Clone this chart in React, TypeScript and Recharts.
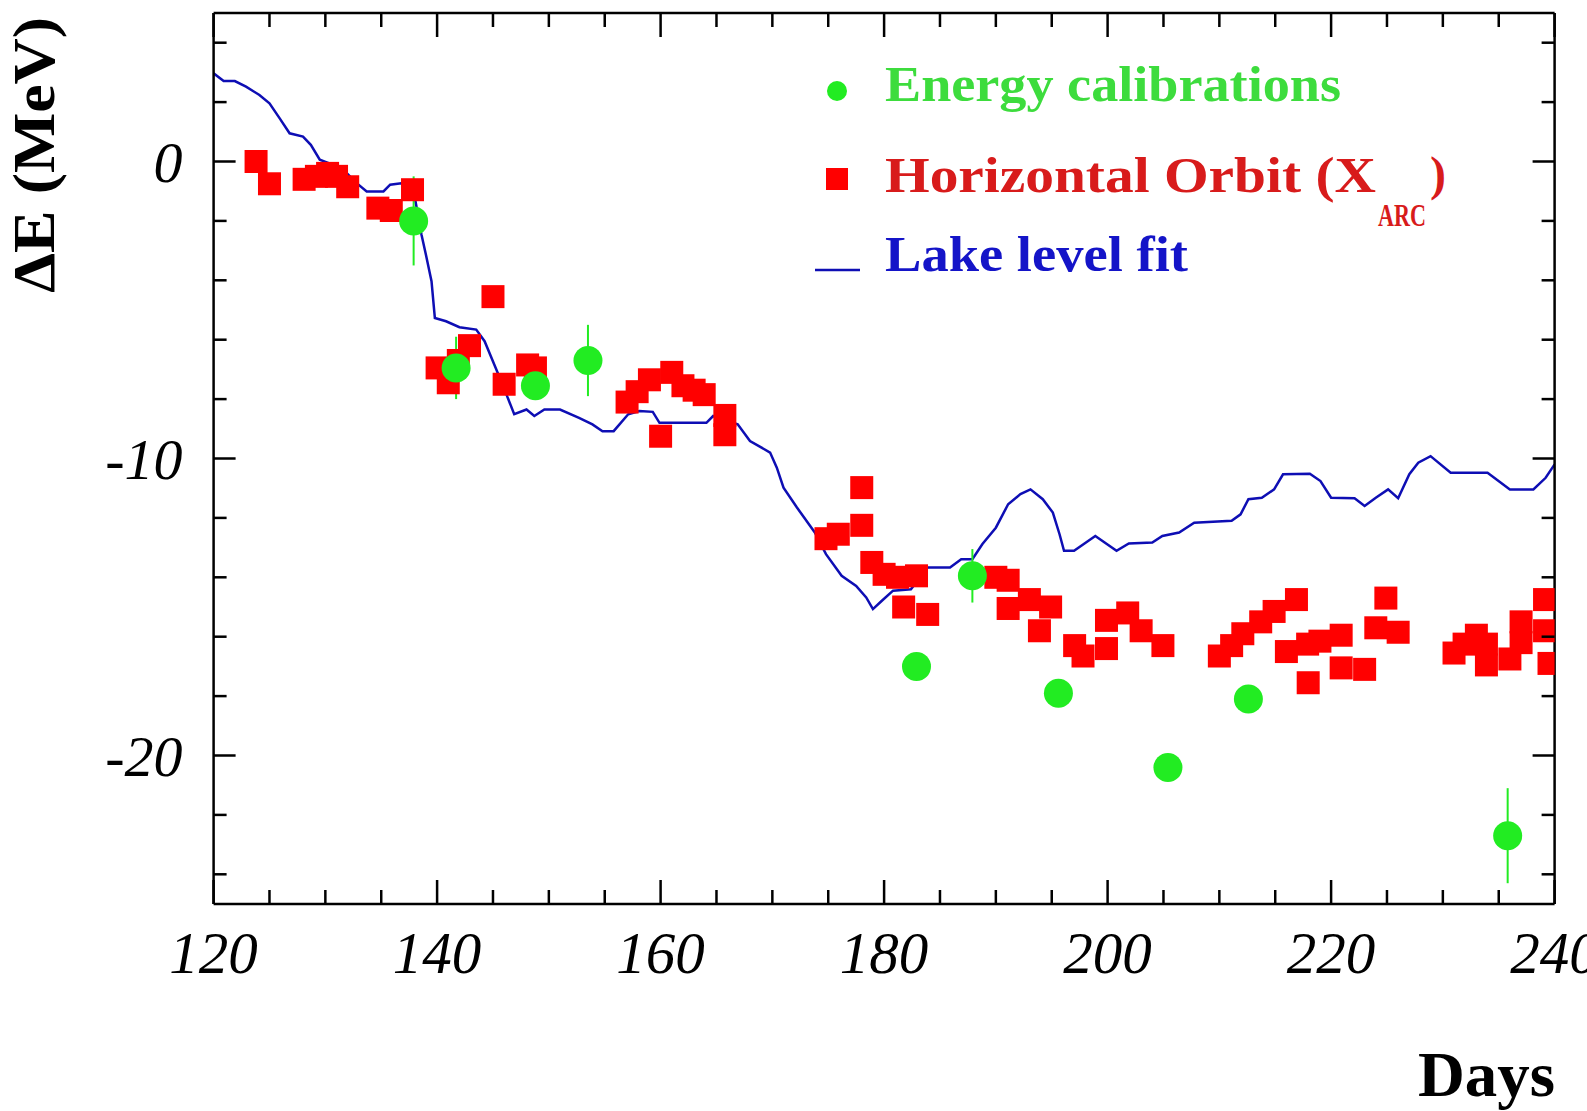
import React from "react";
import {
    ComposedChart,
    Line,
    Scatter,
    ErrorBar,
    XAxis,
    YAxis,
} from "recharts";

// energy calibrations (green dots with errors)
const CALIB_DAY = [137.9, 141.7, 148.8, 153.5, 182.9, 187.9, 195.6, 205.4, 212.6, 235.8];
const CALIB_DE = [-2.0, -6.95, -7.55, -6.7, -17.0, -13.95, -17.9, -20.4, -18.1, -22.7];
const CALIB_ERR = [1.5, 1.05, 0.45, 1.2, 0, 0.9, 0, 0, 0, 1.6];

// horizontal orbit (red squares)
const ORBIT_DAY = [
    123.8, 125.0, 128.1, 129.2, 130.2, 131.0, 132.0, 134.7, 135.9, 137.8,
    140.0, 141.0, 141.9, 142.9, 145.0, 146.0, 148.1, 148.8,
    157.0, 157.9, 159.0, 160.0, 161.0, 162.0, 163.0, 163.9, 165.75, 165.75,
    174.8, 175.9, 178.0, 178.0, 178.9, 180.0, 181.2, 181.75, 182.9, 183.9,
    190.0, 191.1, 191.1, 193.0, 193.9, 194.9, 197.05, 197.8, 199.9, 199.9,
    201.8, 203.0, 204.95, 210.0, 211.1, 212.1, 213.7, 214.9, 216.0, 216.9,
    217.9, 217.95, 219.0, 220.9, 220.9, 223.0, 224.0, 224.9, 226.0,
    231.0, 231.9, 233.0, 233.9, 233.9, 236.0, 237.0, 237.0, 239.1, 239.1, 239.5,
];
const ORBIT_DE = [
    0.0, -0.75, -0.6, -0.5, -0.4, -0.5, -0.85, -1.57, -1.65, -0.95,
    -6.95, -7.45, -6.7, -6.2, -4.55, -7.5, -6.85, -6.95,
    -8.1, -7.75, -7.35, -9.25, -7.1, -7.55, -7.7, -7.85, -8.55, -9.2,
    -12.7, -12.55, -10.98, -12.25, -13.5, -13.9, -14.0, -15.0, -13.95, -15.25,
    -14.0, -14.1, -15.05, -14.75, -15.8, -15.0, -16.3, -16.65, -16.4, -15.45,
    -15.2, -15.8, -16.3, -16.65, -16.3, -15.9, -15.5, -15.15, -16.5, -14.75,
    -16.25, -17.55, -16.15, -15.95, -17.05, -17.1, -15.7, -14.7, -15.85,
    -16.55, -16.25, -15.95, -16.25, -16.95, -16.75, -15.5, -16.2, -14.75, -15.8, -16.9,
];

// lake level fit (blue line)
const LAKE_DAY = [
    120.0, 120.9, 121.9, 122.9, 124.1, 125.0, 125.9, 126.8, 128.0, 128.7,
    129.5, 130.7, 131.9, 132.8, 133.7, 135.2, 135.8, 136.8, 137.8, 138.6,
    139.0, 139.5, 139.8, 140.8, 142.0, 143.5, 144.25, 145.3, 146.2, 146.9,
    148.0, 148.7, 149.6, 151.0, 152.7, 153.9, 154.8, 155.8, 157.1, 158.1,
    159.3, 159.9, 164.1, 164.7, 166.9, 168.0, 169.8, 170.4, 171.0, 172.2,
    173.8, 174.8, 176.2, 177.5, 178.4, 179.0, 179.8, 180.8, 182.4, 183.9,
    185.9, 186.9, 187.9, 188.8, 190.0, 191.1, 192.2, 193.1, 194.2, 195.1,
    195.7, 196.1, 197.0, 198.9, 200.8, 201.9, 204.0, 204.9, 206.4, 207.75,
    211.1, 211.9, 212.6, 213.8, 214.9, 215.7, 218.1, 219.05, 220.0, 222.1,
    223.0, 224.0, 225.1, 226.0, 227.0, 227.8, 228.9, 230.7, 234.0, 236.0,
    238.1, 239.2, 240.0,
];
const LAKE_DE = [
    2.97, 2.71, 2.71, 2.52, 2.24, 1.96, 1.46, 0.95, 0.84, 0.56,
    0.06, -0.11, -0.39, -0.73, -1.01, -1.01, -0.78, -0.73, -0.78, -2.46,
    -3.14, -4.03, -5.27, -5.38, -5.58, -5.66, -6.05, -7.0, -7.84, -8.51,
    -8.35, -8.57, -8.35, -8.35, -8.63, -8.85, -9.08, -9.08, -8.51, -8.4,
    -8.43, -8.8, -8.8, -8.57, -8.85, -9.41, -9.8, -10.31, -10.98, -11.65,
    -12.49, -13.22, -13.95, -14.29, -14.68, -15.07, -14.79, -14.45, -14.4, -13.67,
    -13.67, -13.39, -13.39, -12.88, -12.33, -11.54, -11.2, -11.04, -11.37, -11.82,
    -12.55, -13.11, -13.11, -12.61, -13.11, -12.86, -12.83, -12.61, -12.49, -12.16,
    -12.1, -11.88, -11.37, -11.32, -11.04, -10.53, -10.51, -10.76, -11.32, -11.34,
    -11.6, -11.32, -11.04, -11.34, -10.53, -10.14, -9.92, -10.48, -10.48, -11.04,
    -11.04, -10.65, -10.2,
];

const X_TICKS = [
    120, 125, 130, 135, 140, 145, 150, 155, 160, 165, 170, 175, 180,
    185, 190, 195, 200, 205, 210, 215, 220, 225, 230, 235, 240,
];
const Y_TICKS = [-24, -22, -20, -18, -16, -14, -12, -10, -8, -6, -4, -2, 0, 2, 4];

const calib = CALIB_DAY.map((d, i) => ({ day: d, e: CALIB_DE[i], err: CALIB_ERR[i] }));
const orbit = ORBIT_DAY.map((d, i) => ({ day: d, e: ORBIT_DE[i] }));
const lake = LAKE_DAY.map((d, i) => ({ day: d, e: LAKE_DE[i] }));

const SERIF = "'Liberation Serif', 'DejaVu Serif', serif";
const GREEN = "#22ec22";
const RED = "#ff0000";
const BLUE = "#0e0eb4";

function XTick(props: any) {
    const { x, y, payload, side } = props;
    const v = payload.value;
    const major = v % 20 === 0;
    const len = major ? 24 : 14;
    const dir = side === "bottom" ? -1 : 1;
    return (
        <g>
            <line x1={x} y1={y} x2={x} y2={y + dir * len} stroke="#000" strokeWidth={2.5} />
            {side === "bottom" && major && (
                <text
                    x={x}
                    y={y + 69}
                    textAnchor="middle"
                    fontFamily={SERIF}
                    fontStyle="italic"
                    fontSize={59}
                    fill="#000"
                >
                    {v}
                </text>
            )}
        </g>
    );
}

function YTick(props: any) {
    const { x, y, payload, side } = props;
    const v = payload.value;
    const major = v % 10 === 0;
    const len = major ? 22 : 13;
    const dir = side === "left" ? 1 : -1;
    return (
        <g>
            <line x1={x} y1={y} x2={x + dir * len} y2={y} stroke="#000" strokeWidth={2.5} />
            {side === "left" && major && (
                <text
                    x={x - 31}
                    y={y + 20}
                    textAnchor="end"
                    fontFamily={SERIF}
                    fontStyle="italic"
                    fontSize={58}
                    fill="#000"
                >
                    {v}
                </text>
            )}
        </g>
    );
}

const axisLine = { stroke: "#000", strokeWidth: 2.5 };

export default function App() {
    return (
        <div
            style={{
                position: "absolute",
                left: 0,
                top: 0,
                width: 1587,
                height: 1111,
                overflow: "hidden",
                background: "#fff",
            }}
        >
            <ComposedChart
                width={1587}
                height={1111}
                margin={{ top: 12, right: 31.4, bottom: 0, left: 0 }}
            >
                <XAxis
                    xAxisId="b"
                    type="number"
                    dataKey="day"
                    domain={[120, 240]}
                    ticks={X_TICKS}
                    interval={0}
                    allowDataOverflow
                    height={207}
                    tickSize={0}
                    tickMargin={0}
                    tickLine={false}
                    axisLine={axisLine}
                    tick={(p: any) => <XTick {...p} side="bottom" />}
                />
                <XAxis
                    xAxisId="t"
                    orientation="top"
                    type="number"
                    dataKey="day"
                    domain={[120, 240]}
                    ticks={X_TICKS}
                    interval={0}
                    allowDataOverflow
                    height={1}
                    tickSize={0}
                    tickMargin={0}
                    tickLine={false}
                    axisLine={axisLine}
                    tick={(p: any) => <XTick {...p} side="top" />}
                />
                <YAxis
                    yAxisId="l"
                    type="number"
                    domain={[-25, 5]}
                    ticks={Y_TICKS}
                    interval={0}
                    allowDataOverflow
                    width={213.6}
                    tickSize={0}
                    tickMargin={0}
                    tickLine={false}
                    axisLine={axisLine}
                    tick={(p: any) => <YTick {...p} side="left" />}
                />
                <YAxis
                    yAxisId="r"
                    orientation="right"
                    type="number"
                    domain={[-25, 5]}
                    ticks={Y_TICKS}
                    interval={0}
                    allowDataOverflow
                    width={1}
                    tickSize={0}
                    tickMargin={0}
                    tickLine={false}
                    axisLine={axisLine}
                    tick={(p: any) => <YTick {...p} side="right" />}
                />

                {/* invisible twin so the top / right frame axes are drawn */}
                <Line
                    xAxisId="t"
                    yAxisId="r"
                    data={lake}
                    dataKey="e"
                    stroke="none"
                    dot={false}
                    activeDot={false}
                    isAnimationActive={false}
                />

                <Line
                    xAxisId="b"
                    yAxisId="l"
                    data={lake}
                    dataKey="e"
                    type="linear"
                    stroke={BLUE}
                    strokeWidth={2.5}
                    dot={false}
                    activeDot={false}
                    isAnimationActive={false}
                />

                <Scatter
                    xAxisId="b"
                    yAxisId="l"
                    data={orbit}
                    dataKey="e"
                    isAnimationActive={false}
                    shape={(p: any) => (
                        <rect x={p.cx - 11.5} y={p.cy - 11.5} width={23} height={23} fill={RED} />
                    )}
                />

                <Scatter
                    xAxisId="b"
                    yAxisId="l"
                    data={calib}
                    dataKey="e"
                    isAnimationActive={false}
                    shape={(p: any) => <circle cx={p.cx} cy={p.cy} r={14.5} fill={GREEN} />}
                >
                    <ErrorBar
                        dataKey="err"
                        direction="y"
                        width={0}
                        stroke={GREEN}
                        strokeWidth={2}
                        isAnimationActive={false}
                    />
                </Scatter>
            </ComposedChart>

            <svg
                width={1587}
                height={1111}
                style={{ position: "absolute", left: 0, top: 0, pointerEvents: "none" }}
            >
                <text
                    transform="translate(54,155) rotate(-90)"
                    textAnchor="middle"
                    fontFamily={SERIF}
                    fontWeight="bold"
                    fontSize={60}
                    textLength={276}
                    lengthAdjust="spacingAndGlyphs"
                    fill="#000"
                >
                    ΔE (MeV)
                </text>
                <text
                    x={1418}
                    y={1096}
                    fontFamily={SERIF}
                    fontWeight="bold"
                    fontSize={64}
                    textLength={137}
                    lengthAdjust="spacingAndGlyphs"
                    fill="#000"
                >
                    Days
                </text>

                {/* legend */}
                <circle cx={837} cy={91} r={10} fill={GREEN} />
                <text
                    x={885}
                    y={101}
                    fontFamily={SERIF}
                    fontWeight="bold"
                    fontSize={50}
                    textLength={456}
                    lengthAdjust="spacingAndGlyphs"
                    fill="#3ddc3d"
                >
                    Energy calibrations
                </text>

                <rect x={826} y={168} width={22} height={22} fill={RED} />
                <text
                    x={885}
                    y={192}
                    fontFamily={SERIF}
                    fontWeight="bold"
                    fontSize={50}
                    textLength={491}
                    lengthAdjust="spacingAndGlyphs"
                    fill="#d81b1b"
                >
                    Horizontal Orbit (X
                </text>
                <text
                    x={1378}
                    y={226}
                    fontFamily={SERIF}
                    fontWeight="bold"
                    fontSize={32}
                    textLength={48}
                    lengthAdjust="spacingAndGlyphs"
                    fill="#d81b1b"
                >
                    ARC
                </text>
                <text
                    x={1430}
                    y={190}
                    fontFamily={SERIF}
                    fontWeight="bold"
                    fontSize={48}
                    fill="#d81b1b"
                >
                    )
                </text>

                <line x1={815} y1={270} x2={860} y2={270} stroke={BLUE} strokeWidth={2.5} />
                <text
                    x={885}
                    y={271}
                    fontFamily={SERIF}
                    fontWeight="bold"
                    fontSize={50}
                    textLength={303}
                    lengthAdjust="spacingAndGlyphs"
                    fill="#1414c8"
                >
                    Lake level fit
                </text>
            </svg>
        </div>
    );
}
